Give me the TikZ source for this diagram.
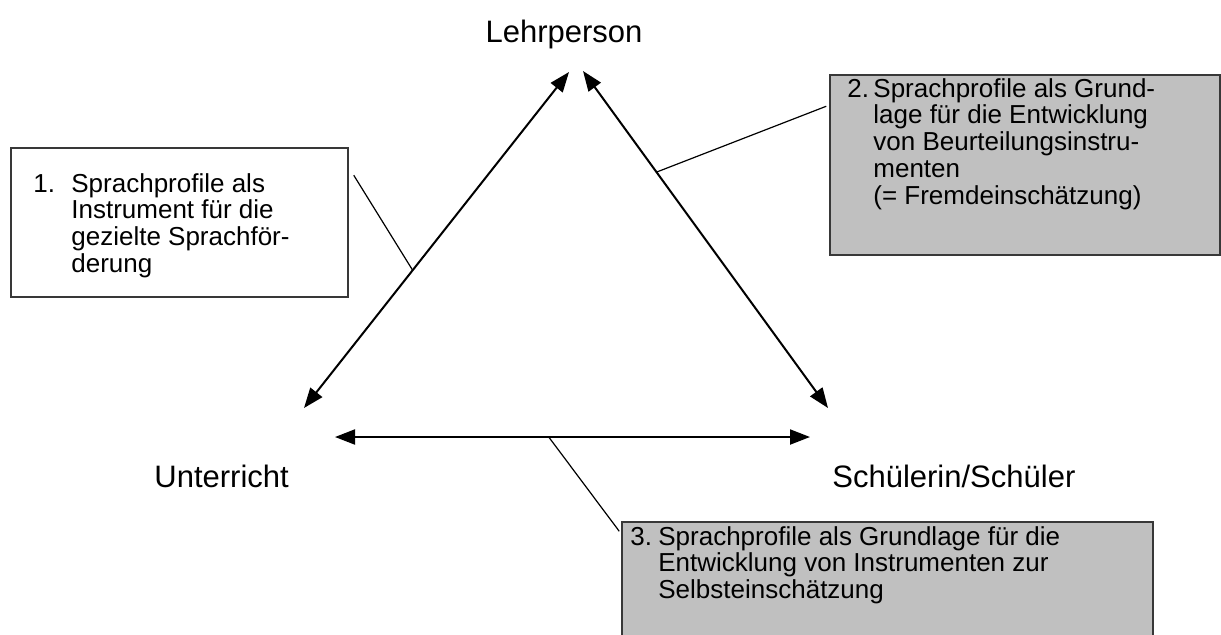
\documentclass[tikz,border=0pt]{standalone}
\usepackage{fontspec}
\setmainfont{Liberation Sans}
\usetikzlibrary{arrows.meta,calc,fit}
\definecolor{boxgray}{HTML}{C0C0C0}
\newcommand{\itemno}[2]{\makebox[#1][l]{#2}}

\begin{document}
\begin{tikzpicture}[x=0.5pt,y=-0.5pt,
    dbl/.style={{Triangle[length=10pt,width=7.5pt]}-{Triangle[length=10pt,width=7.5pt]},line width=1pt},
    corner/.style={font=\fontsize{15.5}{18}\selectfont,inner sep=0pt},
    notebox/.style={draw=black!78,line width=0.75pt,inner sep=0pt},
    notetext/.style={font=\fontsize{13}{13.35}\selectfont,align=left,inner sep=0pt,anchor=north west},
    conn/.style={line width=0.6pt}]
    \useasboundingbox (0,0) rectangle (1221,634);
    % corners of the triangle
    \node[corner,anchor=base] (lehr) at (564,42) {Lehrperson};
    \node[corner,anchor=base west] (unt) at (154,487) {Unterricht};
    \node[corner,anchor=base west] (sch) at (832,487) {Schülerin/Schüler};
    \coordinate (lehrL) at (569,72); \coordinate (lehrR) at (583,71);
    \coordinate (untT) at (304,408); \coordinate (untR) at (335,437);
    \coordinate (schT) at (828,408); \coordinate (schL) at (810,437);
    \draw[dbl] (untT) -- (lehrL);
    \draw[dbl] (lehrR) -- (schT);
    \draw[dbl] (untR) -- (schL);
    % boxes
    \node[notebox,fill=white,fit={(11,148) (348,297)}] (box1) {};
    \node[notebox,fill=boxgray,fit={(830,75) (1220,255)}] (box2) {};
    \node[notebox,fill=boxgray,fit={(622,522) (1153,660)}] (box3) {};
    \node[notetext] (txt1) at (33,173) {\itemno{19pt}{1.}Sprachprofile als\\
        \hspace*{19pt}Instrument für die\\
        \hspace*{19pt}gezielte Sprachför-\\
        \hspace*{19pt}derung};
    \node[notetext] (txt2) at (847,78) {\itemno{13pt}{2.}Sprachprofile als Grund-\\
        \hspace*{13pt}lage für die Entwicklung\\
        \hspace*{13pt}von Beurteilungsinstru-\\
        \hspace*{13pt}menten\\
        \hspace*{13pt}(= Fremdeinschätzung)};
    \node[notetext] (txt3) at (630,526) {\itemno{14pt}{3.}Sprachprofile als Grundlage für die\\
        \hspace*{14pt}Entwicklung von Instrumenten zur\\
        \hspace*{14pt}Selbsteinschätzung};
    % connectors
    \coordinate (m1) at ($(untT)!.41!(lehrL)$);
    \coordinate (m2) at ($(lehrR)!.30!(schT)$);
    \coordinate (m3) at ($(untR)!.45!(schL)$);
    \draw[conn] ($(box1.north east)+(5,28)$) -- (m1);
    \draw[conn] ($(box2.north west)+(-3,32)$) -- (m2);
    \draw[conn] (m3) -- ($(box3.north west)+(-2,10)$);
\end{tikzpicture}
\end{document}
